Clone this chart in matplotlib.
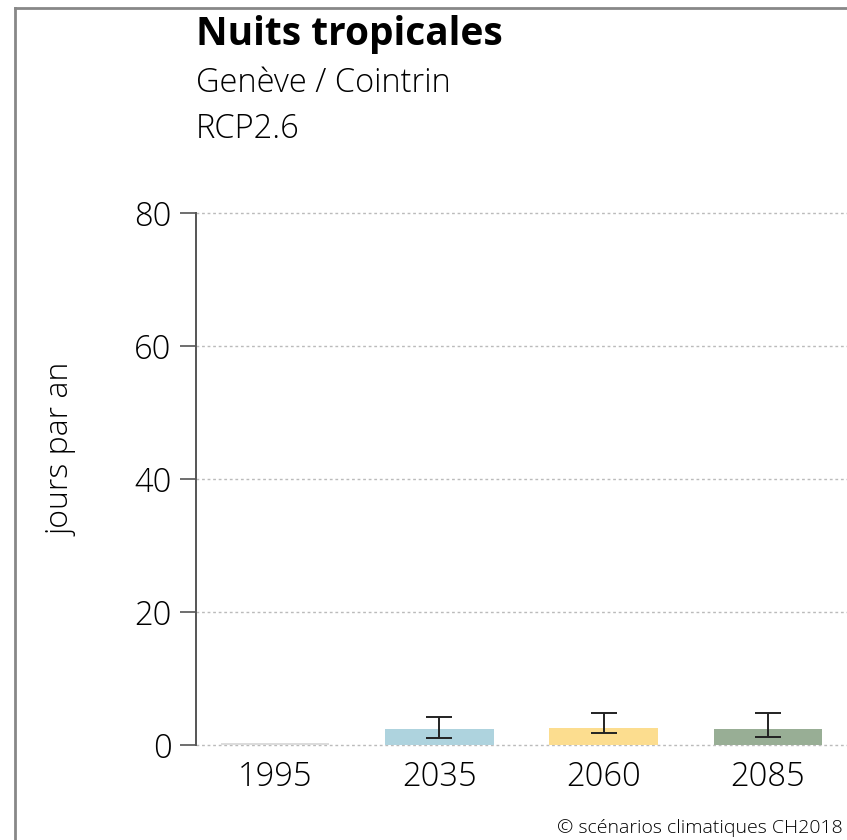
import numpy as np
import matplotlib
matplotlib.use("Agg")
import matplotlib.pyplot as plt
from matplotlib.lines import Line2D

# data
periods = ["1995", "2035", "2060", "2085"]
median = [0.3, 2.4, 2.5, 2.4]
low = [np.nan, 1.0, 1.8, 1.2]
high = [np.nan, 4.2, 4.8, 4.8]
colors = ["#dcdcdc", "#aed3de", "#fcdd8f", "#98ae95"]
yticks = [0, 20, 40, 60, 80]

plt.rcParams['font.family'] = ['Open Sans', 'DejaVu Sans']
plt.rcParams['font.weight'] = 'light'

fig = plt.figure(figsize=(8.47, 8.40), dpi=100)
ax = fig.add_axes([196/847, 1-745/840, 651/847, 532/840])

x = np.arange(len(periods))
ax.bar(x, median, width=0.66, color=colors, zorder=2)
med = np.array(median)
err = np.array([med - np.array(low), np.array(high) - med])
ax.errorbar(x[1:], med[1:], yerr=err[:, 1:], fmt='none', ecolor='#222222',
            elinewidth=1.4, capsize=9.5, capthick=1.4, zorder=3)

ax.set_xlim(-0.48, 3.48)
ax.set_ylim(0, 80)
ax.set_yticks(yticks)
ax.set_xticks(x)
ax.set_xticklabels(periods)
ax.tick_params(axis='y', labelsize=23.5, length=11.5, width=1.2, color='#555555', pad=6)
ax.tick_params(axis='x', labelsize=23.5, length=0, pad=11)
for v in yticks:
    ax.axhline(v, color='#bbbbbb', lw=1, ls=(0, (2, 2)), zorder=1, clip_on=False)
for s in ['top', 'right', 'bottom']:
    ax.spines[s].set_visible(False)
ax.spines['left'].set_color('#555555')
ax.spines['left'].set_linewidth(1.4)

fig.text(61/847, 1-449/840, 'jours par an', fontsize=23, rotation=90, ha='center', va='center')
fig.text(196/847, 1-45/840, 'Nuits tropicales', fontsize=28, fontweight='bold', va='baseline')
fig.text(196/847, 1-92/840, 'Genève / Cointrin', fontsize=23.5, va='baseline')
fig.text(196/847, 1-138/840, 'RCP2.6', fontsize=23.5, va='baseline')
fig.text(843/847, 1-828/840, '© scénarios climatiques CH2018', fontsize=14, ha='right', va='center')

# screenshot frame
fig.add_artist(Line2D([15/847, 15/847], [0, 1-8/840], color='#888888', lw=2, transform=fig.transFigure))
fig.add_artist(Line2D([15/847, 1], [1-8/840, 1-8/840], color='#888888', lw=2, transform=fig.transFigure))

fig.savefig('out.png', dpi=100)
